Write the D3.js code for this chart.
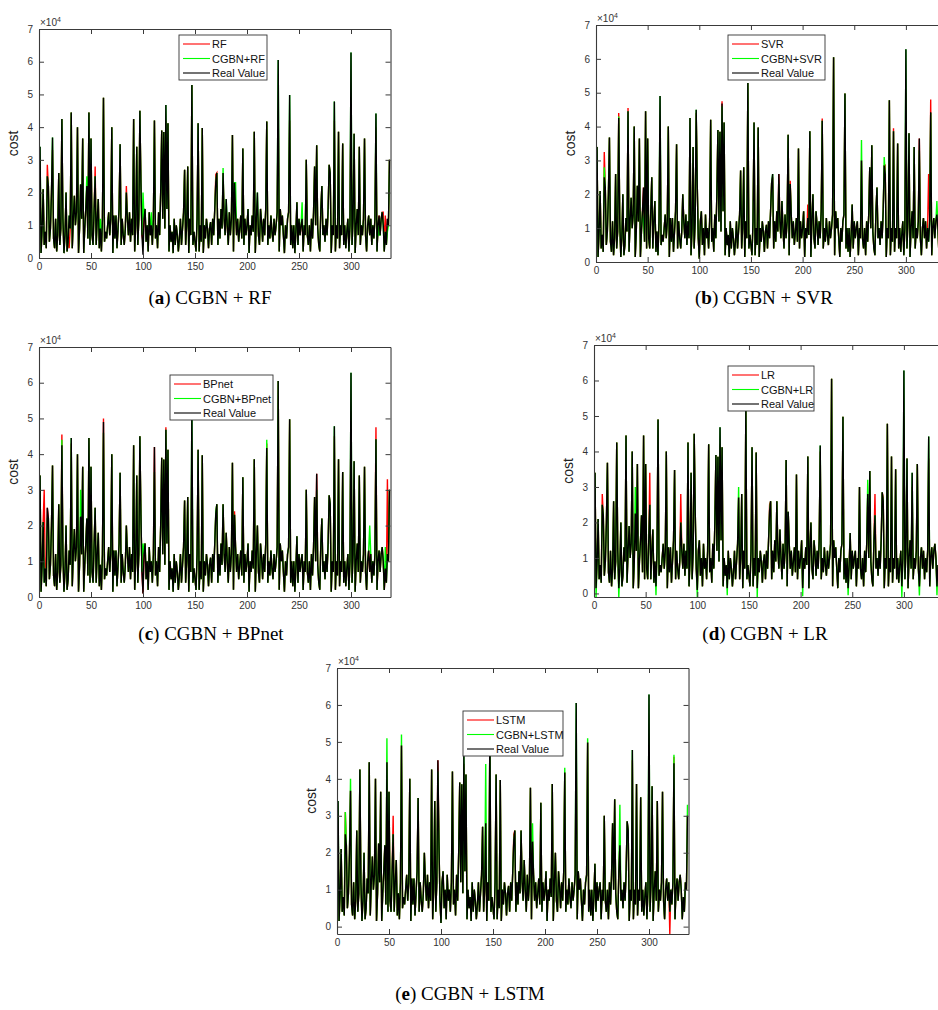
<!DOCTYPE html>
<html>
<head>
<meta charset="utf-8">
<script src="https://cdn.jsdelivr.net/npm/d3@7"></script>
<style>
  body { margin: 0; background: #fff; }
  svg text { font-family: "Liberation Sans", Arial, sans-serif; }
  .cap { font-family: "Liberation Serif", "DejaVu Serif", serif; }
</style>
</head>
<body>
<svg id="fig" width="938" height="1010"></svg>
<script>
// tick values (cost axis is in units of 10^4)
const xTicks = [0, 50, 100, 150, 200, 250, 300];
const yTicks = [0, 1, 2, 3, 4, 5, 6, 7];

// real cost of the test samples, in thousands
const realCost = [
  18,34,1.5,9,21,4,8,3,25,22,
  5,9,20,36.8,6,3,12,2,7,26,
  4,9,42.5,12,1.5,7,20,2,5,13,
  9,44.5,3,12,19,10,14,40,1.5,9,
  22.5,12,36.5,1.5,9,15,22,6,44.5,4,
  36.5,7,4,15,25,4,12,18,3,9,
  2,12,49,5,8,6,10,14,7,12,
  40,1.5,13,6,13,3,9,15,34.8,4,
  12,7,4,9,20,12,7,14,5,12,
  7,42.5,2,10,34,4,12,45,23,7,
  1,12,15,5,10,2,14,7,10,4,
  12,42,6,10,3,14,7,20,39,12,
  38.5,9,46.8,15,41.2,2,10,5,8,1.5,
  12,4,10,7,2,6,12,4,9,14,
  27,4,10,28,1.5,12,7,52.9,4,8,
  5,2,12,41.2,2,10,5,39.7,1.5,10,
  6,12,9,3,9,11,4,12,7,15,
  23.3,26,4,12,6,15,9,26,12,7,
  18,10,4,14,7,12,37.6,2,23,14,
  7,12,5,9,13,6,33.5,4,12,7,
  10,15,1.5,10,7,13,8,38.6,1.5,12,
  20,7,4,15,11,5,12,7,15,41.7,
  4,10,6,13,8,5,12,7,10,14,
  60.5,2,15,10,13,7,1.5,10,6,12,
  14,49.8,4,10,3,10,1.5,8,17,4,
  12,7,10,12,2,10,7,30,7,4,
  10,2,12,6,14,28,10,34.5,9,4,
  2,15,22,7,10,5,12,7,15,28.5,
  26,1.5,10,7,47.8,2,10,6,38.6,3,
  10,7,35,4,10,3,8,12,2,10,
  62.8,4,12,38,1.5,10,15,7,34,4,
  10,7,12,36.5,7,2,10,13,7,12,
  4,10,6,12,44.2,2,10,13,7,12,
  14,10,2,8,4,12,10,30
];

// predictions, [sample index, cost in thousands] where they leave the real-value line
const rfPred = [[1,30],[8,28.5],[13,33],[29,3],[54,28],[84,22],[100,5],[122,42],[170,25.5],[180,14],[210,14],[230,45],[241,42],[279,28.5],[284,42],[300,48],[324,40],[331,14],[333,13]];
const cgbnRfPred = [[8,25],[26,20],[46,25],[59,12],[100,20],[108,14],[177,27.5],[189,23],[248,17],[253,17],[272,22],[280,26],[327,7],[335,8]];

const svrPred = [[0,15],[8,32.5],[22,44],[31,45.5],[62,42],[97,44],[122,47.5],[171,25],[188,24],[205,17],[219,42.4],[280,28.6],[288,39.5],[300,50],[324,48],[322,26]];
const cgbnSvrPred = [[8,28],[22,43],[46,12],[122,46],[177,23],[257,36],[279,31],[284,47.8],[313,33],[324,44],[330,18]];

const bpPred = [[5,30],[22,45.5],[31,43],[62,50],[97,45],[122,47.5],[147,41],[188,24],[219,43],[284,45],[300,52],[324,47.5],[335,33]];
const cgbnBpPred = [[8,22],[22,44],[40,30],[62,46],[100,15],[111,35],[170,24],[219,44],[257,30],[267,30],[318,20],[333,14]];

const lrPred = [[8,28],[54,34],[84,28],[122,42],[170,25],[219,40],[272,28],[280,27],[300,50],[308,30],[324,38]];
const cgbnLrPred = [[2,-1],[24,-1],[40,30],[60,-0.5],[100,-1],[129,-0.5],[140,30],[158,-1],[202,-0.8],[246,-0.5],[265,32],[298,-1],[315,-0.6],[332,-0.5]];

const lstmPred = [[1,30],[8,31],[54,30],[122,44],[170,25],[230,48],[284,45],[300,48],[320,-2],[324,46]];
const cgbnLstmPred = [[8,31],[13,40],[48,51],[62,52],[97,42],[122,46],[143,44],[177,26],[188,28],[219,43],[241,51],[257,30],[272,33],[324,46.5],[337,33]];

const panels = [
  { tag: "a", model: "RF",    mPred: rfPred,   cPred: cgbnRfPred,   box: [39, 29, 1.04, 258],  ymin: 0,    legend: [179, 35, 88],  caption: [210, 304] },
  { tag: "b", model: "SVR",   mPred: svrPred,  cPred: cgbnSvrPred,  box: [596, 25, 1.033, 262], ymin: 0,   legend: [728, 35, 97],  caption: [764, 304] },
  { tag: "c", model: "BPnet", mPred: bpPred,   cPred: cgbnBpPred,   box: [39, 347, 1.04, 597], ymin: 0,    legend: [170, 375, 103], caption: [211, 640] },
  { tag: "d", model: "LR",    mPred: lrPred,   cPred: cgbnLrPred,   box: [594, 345, 1.033, 597], ymin: -1, legend: [728, 366, 86], caption: [765, 640] },
  { tag: "e", model: "LSTM",  mPred: lstmPred, cPred: cgbnLstmPred, box: [337, 668, 1.04, 934], ymin: -2,  legend: [463, 711, 100], caption: [470, 1000] }
];

const svg = d3.select("#fig");
const nPts = realCost.length;

function withDev(dev) {
  const m = new Map(dev);
  return realCost.map((v, i) => (m.has(i) ? m.get(i) : v));
}

panels.forEach((p, pi) => {
  const [x0, y0, perUnit, y1] = p.box;
  const x = d3.scaleLinear().domain([0, nPts]).range([x0, x0 + nPts * perUnit]);
  const y = d3.scaleLinear().domain([p.ymin, 70]).range([y1, y0]);
  const x1 = x.range()[1];

  const g = svg.append("g");

  g.append("clipPath").attr("id", "clip" + pi)
    .append("rect").attr("x", x0).attr("y", y0).attr("width", x1 - x0).attr("height", y1 - y0);

  const line = d3.line().x((d, i) => x(i)).y(d => y(d));
  const series = [
    { vals: withDev(p.mPred), color: "#ff0000", label: p.model },
    { vals: withDev(p.cPred), color: "#00ff00", label: "CGBN+" + p.model },
    { vals: realCost, color: "#000000", label: "Real Value" }
  ];

  const plot = g.append("g").attr("clip-path", `url(#clip${pi})`);
  series.forEach(s => {
    plot.append("path").datum(s.vals)
      .attr("d", line)
      .attr("fill", "none")
      .attr("stroke", s.color)
      .attr("stroke-width", 1.4)
      .attr("stroke-linejoin", "miter");
  });

  // axes, MATLAB style: box on, ticks inside
  const axCol = "#3a3a3a";
  const ax = (a, tr) => g.append("g").attr("transform", tr).call(a)
    .call(s => s.selectAll("path,line").attr("stroke", axCol))
    .call(s => s.selectAll("text").attr("fill", "#333").style("font-size", "10px").style("font-family", "Liberation Sans, Arial, sans-serif"));

  ax(d3.axisBottom(x).tickValues(xTicks).tickSizeInner(-5).tickSizeOuter(0).tickPadding(5), `translate(0,${y1})`);
  ax(d3.axisTop(x).tickValues(xTicks).tickSizeInner(-5).tickSizeOuter(0).tickFormat(""), `translate(0,${y0})`);
  ax(d3.axisLeft(y).tickValues(yTicks.map(t => t * 10)).tickFormat(d => d / 10).tickSizeInner(-5).tickSizeOuter(0).tickPadding(6), `translate(${x0},0)`);
  ax(d3.axisRight(y).tickValues(yTicks.map(t => t * 10)).tickSizeInner(-5).tickSizeOuter(0).tickFormat(""), `translate(${x1},0)`);
  g.selectAll(".domain").attr("stroke-width", 1.1);

  // x10^4 multiplier
  const mult = g.append("text").attr("x", x0 + 1).attr("y", y0 - 3)
    .attr("fill", "#333").style("font-size", "10px");
  mult.append("tspan").text("\u00d710");
  mult.append("tspan").attr("dy", -4).style("font-size", "7px").text("4");

  // y label
  g.append("text")
    .attr("transform", `translate(${x0 - 21},${(y0 + y1) / 2}) rotate(-90)`)
    .attr("text-anchor", "middle")
    .attr("fill", "#222")
    .style("font-size", "14px")
    .text("cost");

  // legend
  const [lx, ly, lw] = p.legend;
  const lg = g.append("g").attr("transform", `translate(${lx},${ly})`);
  lg.append("rect").attr("width", lw).attr("height", 45)
    .attr("fill", "#fff").attr("stroke", "#333").attr("stroke-width", 0.9);
  series.forEach((s, i) => {
    const yy = 9 + i * 14.5;
    lg.append("line").attr("x1", 4).attr("x2", 31).attr("y1", yy).attr("y2", yy)
      .attr("stroke", s.color).attr("stroke-width", 1.1);
    lg.append("text").attr("x", 33).attr("y", yy + 4)
      .attr("fill", "#111").style("font-size", "11px").text(s.label);
  });

  // caption
  const cap = svg.append("text").attr("class", "cap")
    .attr("x", p.caption[0]).attr("y", p.caption[1])
    .attr("text-anchor", "middle").style("font-size", "19px").attr("fill", "#000");
  cap.append("tspan").text("(");
  cap.append("tspan").style("font-weight", "bold").text(p.tag);
  cap.append("tspan").text(") CGBN + " + p.model);
});
</script>
</body>
</html>
